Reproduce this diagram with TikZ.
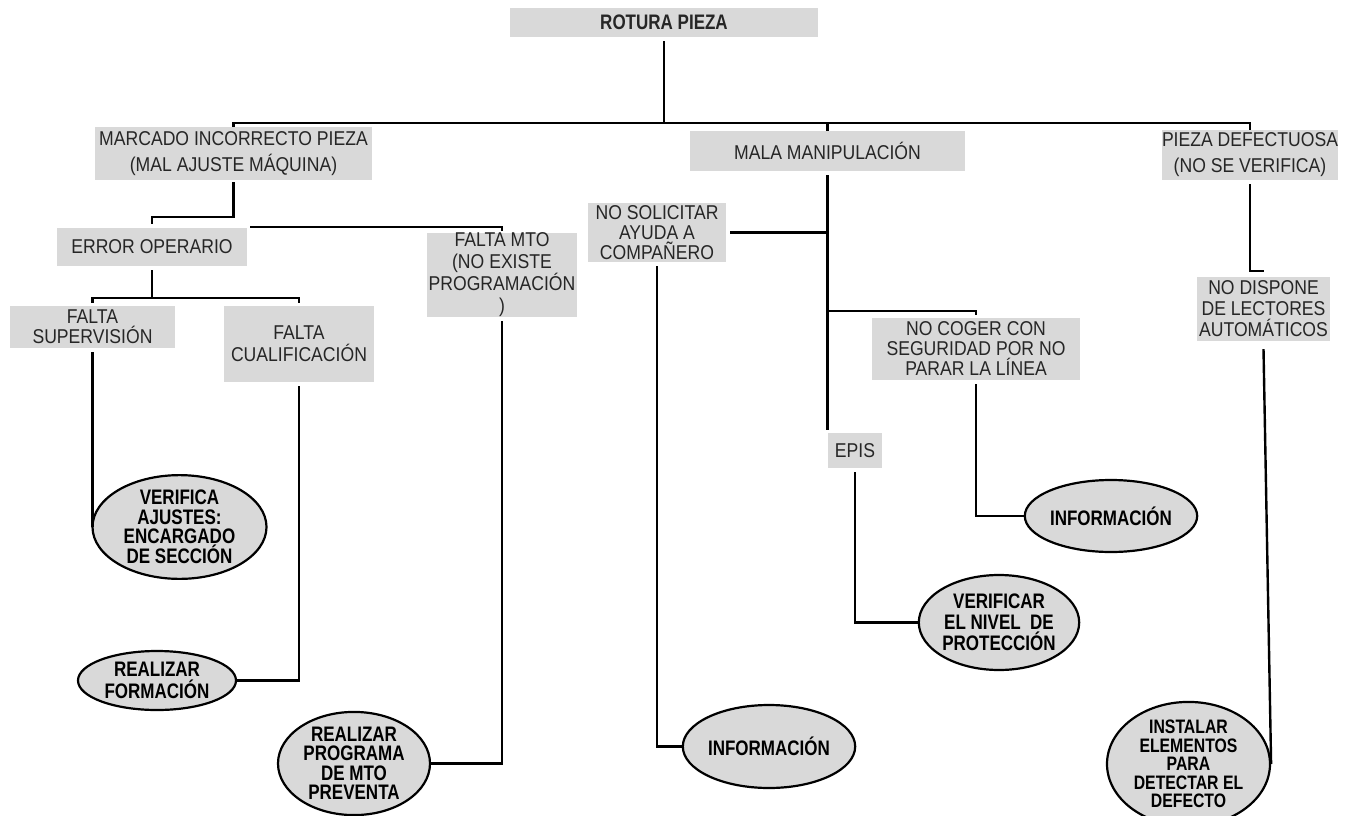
\documentclass[tikz,border=0pt]{standalone}
\usepackage{fontspec}
\setmainfont{Liberation Sans}
\newfontfamily\boxfam[FakeStretch=0.88]{Liberation Sans}
\newfontfamily\ellfam[FakeStretch=0.81]{Liberation Sans}
\usetikzlibrary{shapes.geometric}
\definecolor{boxgray}{HTML}{D9D9D9}
\tikzset{
  gbox/.style={rectangle, fill=boxgray, inner sep=0pt, align=center,
    font=\boxfam\fontsize{20}{21}\selectfont, text=black!85},
  gell/.style={ellipse, fill=boxgray, draw=black, line width=2.2pt, inner sep=0pt,
    align=center, font=\ellfam\bfseries\fontsize{21}{19.5}\selectfont},
  conn/.style={line width=2.4pt, draw=black}
}
\begin{document}
\begin{tikzpicture}[x=1pt,y=-1pt]
\useasboundingbox (0,0) rectangle (1354,816);
% boxes
\node[gbox, minimum width=308pt, minimum height=29pt, font=\ellfam\bfseries\fontsize{21}{20}\selectfont] (rot) at (664,22.5) {ROTURA PIEZA};
\node[gbox, minimum width=277pt, minimum height=53pt, font=\boxfam\fontsize{20}{26}\selectfont] (marc) at (233.5,153.5) {MARCADO INCORRECTO PIEZA\\(MAL AJUSTE MÁQUINA)};
\node[gbox, minimum width=275pt, minimum height=40pt] (mala) at (827.5,151) {MALA MANIPULACIÓN};
\node[gbox, minimum width=170pt, minimum height=50pt, font=\boxfam\fontsize{20}{26}\selectfont] (pieza) at (1250,155) {PIEZA DEFECTUOSA\\(NO SE VERIFICA)};
\node[gbox, minimum width=190pt, minimum height=38pt] (err) at (152,247) {ERROR OPERARIO};
\node[gbox, minimum width=150pt, minimum height=80pt, font=\boxfam\fontsize{20}{22}\selectfont] (mto) at (502,275) {FALTA MTO\\(NO EXISTE\\PROGRAMACIÓN\\)};
\node[gbox, minimum width=165pt, minimum height=42pt, font=\boxfam\fontsize{20}{20}\selectfont] (sup) at (92.5,327) {FALTA\\SUPERVISIÓN};
\node[gbox, minimum width=150pt, minimum height=76pt, font=\boxfam\fontsize{20}{22}\selectfont] (cual) at (299,344) {FALTA\\CUALIFICACIÓN};
\node[gbox, minimum width=138pt, minimum height=59pt, font=\boxfam\fontsize{20}{20}\selectfont] (sol) at (657,232.5) {NO SOLICITAR\\AYUDA A\\COMPAÑERO};
\node[gbox, minimum width=208pt, minimum height=62pt, font=\boxfam\fontsize{20}{20}\selectfont] (coger) at (976,349) {NO COGER CON\\SEGURIDAD POR NO\\PARAR LA LÍNEA};
\node[gbox, minimum width=54pt, minimum height=35pt] (epis) at (855,450.5) {EPIS};
\node[gbox, minimum width=133pt, minimum height=64pt, font=\boxfam\fontsize{20}{21}\selectfont] (disp) at (1263.5,309) {NO DISPONE\\DE LECTORES\\AUTOMÁTICOS};
% ellipses
\node[gell, minimum width=174pt, minimum height=99pt] (ver) at (179.5,527) {VERIFICA\\AJUSTES:\\ENCARGADO\\DE SECCIÓN};
\node[gell, minimum width=158pt, minimum height=59pt, font=\ellfam\bfseries\fontsize{21}{22}\selectfont] (form) at (157,680.5) {REALIZAR\\FORMACIÓN};
\node[gell, minimum width=152pt, minimum height=103pt] (prog) at (354,763.5) {REALIZAR\\PROGRAMA\\DE MTO\\PREVENTA};
\node[gell, minimum width=162pt, minimum height=83pt] (info1) at (769,746.5) {INFORMACIÓN};
\node[gell, minimum width=162pt, minimum height=72pt] (info2) at (1111,516) {INFORMACIÓN};
\node[gell, minimum width=152pt, minimum height=95pt, font=\ellfam\bfseries\fontsize{21}{21}\selectfont] (nivel) at (999,622.5) {VERIFICAR\\EL NIVEL~~DE\\PROTECCIÓN};
\node[gell, minimum width=163pt, minimum height=104pt, font=\ellfam\bfseries\fontsize{19.5}{18.5}\selectfont] (inst) at (1188.5,764) {INSTALAR\\ELEMENTOS\\PARA\\DETECTAR EL\\DEFECTO};
% connectors
\coordinate (bus) at (664,123);
\draw[conn] ([yshift=-4pt]rot.south) -- (bus);
\draw[conn] (marc.north) -- ++(0,-4) -| (pieza.north);
\draw[conn] (mala.north) -- (mala.north |- bus);
\draw[conn] ([yshift=-2pt]marc.south) -- (marc.south |- 0,217) -| ([yshift=4pt]err.north);
\coordinate (mtoL) at (250,227);
\draw[conn] (mtoL) -| ([yshift=2pt]mto.north);
\draw[conn] ([yshift=-4pt]err.south) -- (err.south |- 0,298);
\draw[conn] ([yshift=3pt]sup.north) -- (sup.north |- 0,298) -| ([yshift=3pt]cual.north);
\draw[conn] ([yshift=-4pt]sup.south) -- (sup.south |- ver.west);
\draw[conn] ([yshift=-4pt]cual.south) |- (form.east);
\draw[conn] ([yshift=-4pt]mto.south) |- (prog.east);
\draw[conn] ([yshift=-4pt]mala.south) -- (mala.south |- 0,430);
\draw[conn] ([xshift=4pt]sol.east) -- (sol.east -| mala.south);
\draw[conn] (mala.south |- 0,311) -| ([yshift=3pt]coger.north);
\draw[conn] ([yshift=-4pt]sol.south) |- (info1.west);
\draw[conn] ([yshift=-4pt]coger.south) |- (info2.west);
\draw[conn] ([yshift=-4pt]epis.south) |- (nivel.west);
\draw[conn] ([yshift=-4pt]pieza.south) -- (pieza.south |- 0,271) -- (disp.north |- 0,271);
\draw[conn] ([yshift=-8pt]disp.south) -- (inst.east);
\end{tikzpicture}
\end{document}
